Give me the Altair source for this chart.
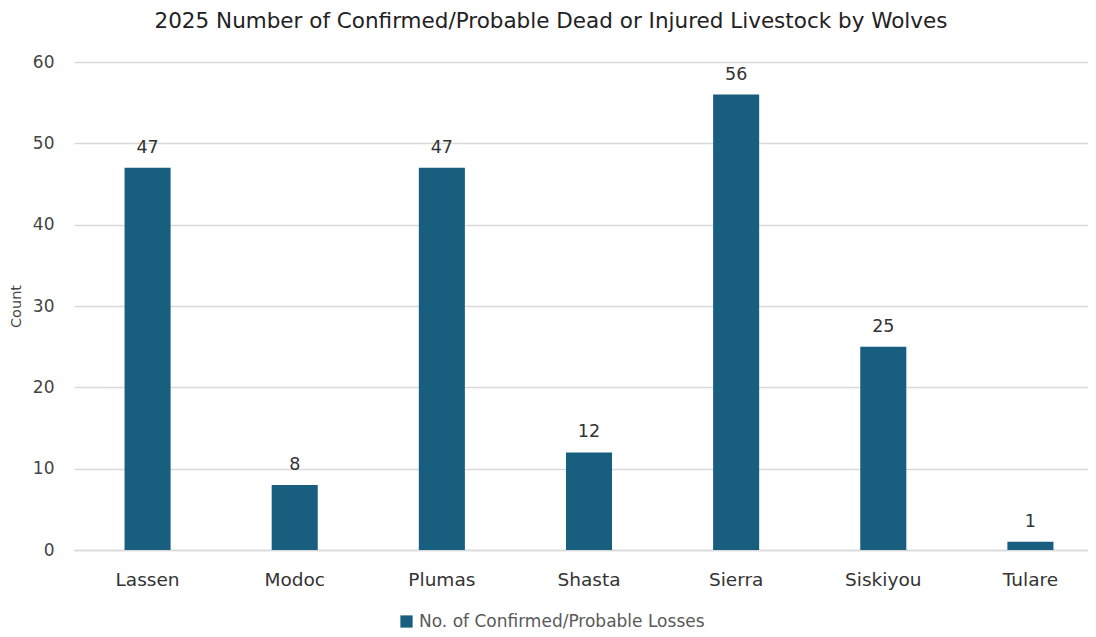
import altair as alt
import pandas as pd

counties = ["Lassen", "Modoc", "Plumas", "Shasta", "Sierra", "Siskiyou", "Tulare"]
losses = [47, 8, 47, 12, 56, 25, 1]
series_name = "No. of Confirmed/Probable Losses"

df = pd.DataFrame({"County": counties, "Count": losses, "Series": [series_name] * len(counties)})

FONT = "DejaVu Sans"
BAR = "#175e7f"

base = alt.Chart(df).encode(
    x=alt.X("County:N", sort=counties, title=None,
            scale=alt.Scale(paddingInner=0.687, paddingOuter=0.3435),
            axis=alt.Axis(labelAngle=0, labelFontSize=18.5, labelColor="#333333", labelFont=FONT,
                          labelPadding=20, ticks=False, domainColor="#d9d9d9", domainWidth=1.3)),
    y=alt.Y("Count:Q", title="Count",
            scale=alt.Scale(domain=[0, 60]),
            axis=alt.Axis(values=[0, 10, 20, 30, 40, 50, 60], labelFontSize=17, labelColor="#444444",
                          labelFont=FONT, labelPadding=20, ticks=False, domain=False,
                          gridColor="#d9d9d9", gridWidth=1.3,
                          titleFont=FONT, titleFontSize=14.5, titleFontWeight="normal",
                          titleColor="#444444", titlePadding=9)),
)

bars = base.mark_bar(color=BAR).encode(
    color=alt.Color("Series:N", scale=alt.Scale(range=[BAR]),
                    legend=alt.Legend(title=None, orient="none", legendX=324, legendY=551,
                                      symbolType="square", symbolSize=150, symbolStrokeWidth=0,
                                      labelFontSize=17, labelColor="#595959", labelFont=FONT,
                                      labelLimit=500, labelOffset=4))
)

labels = base.mark_text(dy=-20, fontSize=17.5, color="#333333", font=FONT).encode(
    text=alt.Text("Count:Q")
)

chart = (bars + labels).properties(
    width=1030,
    height=488,
    padding={"left": 66, "top": 54, "right": -16, "bottom": 79},
    autosize=alt.AutoSizeParams(type="none"),
    title=alt.TitleParams(
        "2025 Number of Confirmed/Probable Dead or Injured Livestock by Wolves",
        font=FONT, fontSize=21.5, fontWeight="normal", color="#222222",
        anchor="middle", dx=-38, offset=21,
    ),
).configure_view(stroke=None)

chart.save("out.html", embed_options={"renderer": "svg", "actions": False})
